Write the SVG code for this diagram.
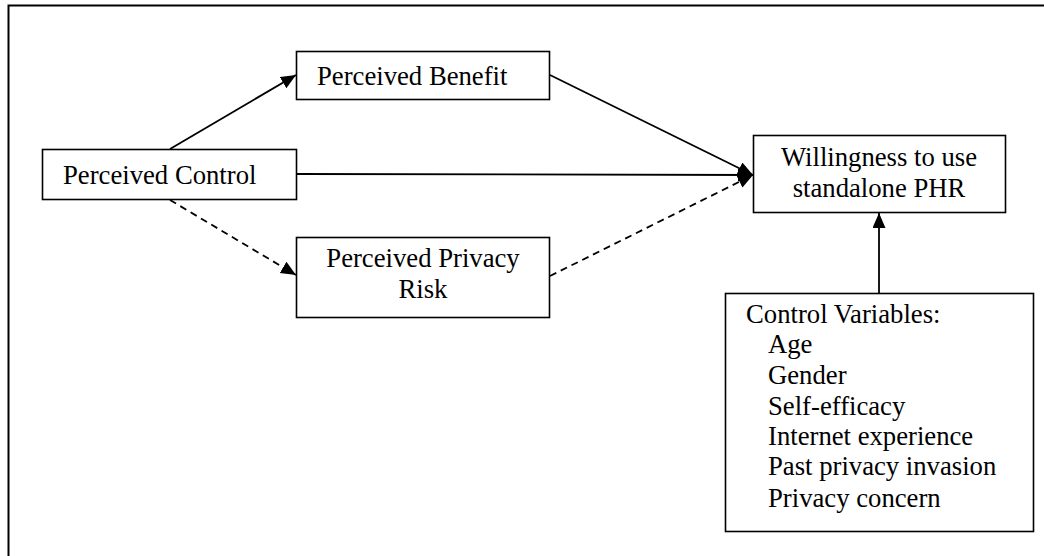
<svg xmlns="http://www.w3.org/2000/svg" width="1044" height="556" viewBox="0 0 1044 556">
<style>
.box{fill:#fff;stroke:#000;stroke-width:1.6}
.t{font-family:"Liberation Serif","Times New Roman",serif;font-size:26.7px;fill:#000}
.c{stroke:#000;stroke-width:1.8;fill:none}
.d{stroke-dasharray:7,5}
</style>
<defs>
<marker id="ah" markerUnits="userSpaceOnUse" markerWidth="16" markerHeight="14" refX="15" refY="6.5" orient="auto">
<path d="M0,0 L15,6.5 L0,13 z" fill="#000"/>
</marker>
</defs>
<rect x="8.5" y="5.5" width="1050" height="560" fill="#fff" stroke="#000" stroke-width="2"/>
<g id="connectors">
<line class="c" x1="170" y1="149" x2="296" y2="75" marker-end="url(#ah)"/>
<line class="c d" x1="170" y1="200" x2="296" y2="275" marker-end="url(#ah)"/>
<line class="c" x1="297" y1="174" x2="753" y2="175" marker-end="url(#ah)"/>
<line class="c" x1="550" y1="75" x2="753" y2="175" marker-end="url(#ah)"/>
<line class="c d" x1="550" y1="276" x2="753" y2="175" marker-end="url(#ah)"/>
<line class="c" x1="879" y1="293" x2="879" y2="213" marker-end="url(#ah)"/>
</g>
<g id="perceived-control">
<rect class="box" x="42.5" y="149.5" width="254" height="50"/>
<text class="t" x="63" y="184">Perceived Control</text>
</g>
<g id="perceived-benefit">
<rect class="box" x="296.5" y="51.5" width="253" height="48"/>
<text class="t" x="317" y="85">Perceived Benefit</text>
</g>
<g id="perceived-privacy-risk">
<rect class="box" x="296.5" y="237.5" width="253" height="80"/>
<text class="t" x="423" y="267" text-anchor="middle">Perceived Privacy</text>
<text class="t" x="423" y="298" text-anchor="middle">Risk</text>
</g>
<g id="willingness">
<rect class="box" x="753.5" y="135.5" width="252" height="77"/>
<text class="t" x="879" y="166" text-anchor="middle">Willingness to use</text>
<text class="t" x="879" y="197" text-anchor="middle">standalone PHR</text>
</g>
<g id="control-variables">
<rect class="box" x="725.5" y="293.5" width="308" height="238"/>
<text class="t" x="746" y="323">Control Variables:</text>
<text class="t" x="768" y="353">Age</text>
<text class="t" x="768" y="384">Gender</text>
<text class="t" x="768" y="415">Self-efficacy</text>
<text class="t" x="768" y="445">Internet experience</text>
<text class="t" x="768" y="475">Past privacy invasion</text>
<text class="t" x="768" y="507">Privacy concern</text>
</g>
</svg>
